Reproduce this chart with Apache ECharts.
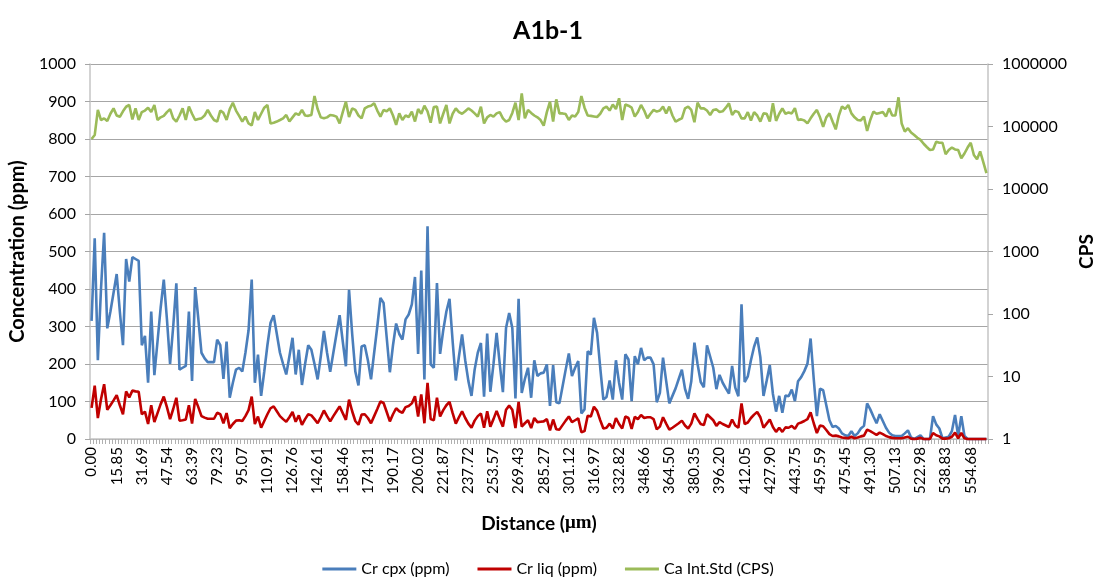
<!DOCTYPE html>
<html>
<head>
<meta charset="utf-8">
<title>A1b-1</title>
<script src="https://cdn.jsdelivr.net/npm/echarts/dist/echarts.min.js"></script>
<style>
  html, body { margin: 0; padding: 0; background: #fff; }
  #chart { width: 1096px; height: 579px; }
</style>
</head>
<body>
<div id="chart"></div>
<script>
// Distance labels shown on the x axis (one every 8 analysis spots)
const distanceTicks = ['0.00','15.85','31.69','47.54','63.39','79.23','95.07','110.91','126.76','142.61',
  '158.46','174.31','190.17','206.02','221.87','237.72','253.57','269.43','285.27','301.12',
  '316.97','332.82','348.66','364.50','380.35','396.20','412.05','427.90','443.75','459.59',
  '475.45','491.30','507.13','522.98','538.83','554.68'];
const spotsPerTick = 8;

// Cr in clinopyroxene (ppm)
const crCpx = [
  315,535,210,400,550,295,340,390,440,340,
  250,480,420,485,480,475,250,275,150,340,
  170,260,350,425,320,200,300,415,185,190,
  195,340,155,405,320,230,215,205,205,205,
  265,250,160,260,110,150,185,190,180,230,
  290,425,150,225,115,180,250,310,330,280,
  230,200,172,220,270,172,238,144,200,250,
  238,200,159,220,288,230,179,230,280,330,
  260,194,398,280,180,143,247,250,210,159,
  230,300,376,363,270,178,250,308,280,265,
  319,332,359,432,227,449,159,567,199,190,
  416,227,290,340,374,260,156,220,279,210,
  155,115,185,230,256,113,281,126,200,283,
  200,125,296,336,296,108,374,123,160,190,
  110,210,168,175,177,199,88,197,98,95,
  140,185,228,168,190,208,68,79,234,225,
  323,283,190,105,112,156,105,210,150,105,
  226,212,101,221,199,243,210,217,217,199,
  98,123,217,155,95,115,135,160,185,134,
  107,154,257,200,152,138,250,220,190,133,
  171,150,135,121,195,137,114,359,152,167,
  210,246,271,218,115,155,197,120,73,115,
  70,116,114,132,101,154,165,181,201,268,
  160,61,134,130,90,50,32,35,28,15,
  10,8,21,8,15,28,35,95,79,60,
  42,66,48,30,17,10,8,8,8,15,
  23,4,0,5,10,0,0,0,61,39,
  28,2,4,6,21,64,8,61,8,0,
  0,0,0,0,0,0
];

// Cr in the liquid (ppm)
const crLiq = [
  83,142,56,106,146,78,90,103,117,90,
  66,127,111,129,127,126,66,73,40,90,
  45,69,93,113,85,53,80,110,49,50,
  52,90,41,107,85,61,57,54,54,54,
  70,66,42,69,29,40,49,50,48,61,
  77,113,40,60,30,48,66,82,87,74,
  61,53,46,58,72,46,63,38,53,66,
  63,53,42,58,76,61,47,61,74,87,
  69,51,105,74,48,38,65,66,56,42,
  61,80,100,96,72,47,66,82,74,70,
  85,88,95,114,60,119,42,150,53,50,
  110,60,77,90,99,69,41,58,74,56,
  41,30,49,61,68,30,74,33,53,75,
  53,33,78,89,78,29,99,33,42,50,
  29,56,45,46,47,53,23,52,26,25,
  37,49,60,45,50,55,18,21,62,60,
  86,75,50,28,30,41,28,56,40,28,
  60,56,27,59,53,64,56,58,58,53,
  26,33,58,41,25,30,36,42,49,36,
  28,41,68,53,40,37,66,58,50,35,
  45,40,36,32,52,36,30,95,40,44,
  56,65,72,58,30,41,52,32,19,30,
  19,31,30,35,27,41,44,48,53,71,
  42,16,36,34,24,13,8,9,7,4,
  3,2,6,2,4,7,9,25,21,16,
  11,17,13,8,5,3,2,2,2,4,
  6,1,0,1,3,0,0,0,16,10,
  7,1,1,2,6,17,2,16,2,0,
  0,0,0,0,0,0
];

// Ca internal standard signal (counts per second)
const caCps = [
  63000,73000,184000,127000,135000,122000,160000,195000,150000,143000,
  175000,207000,221000,130000,195000,127000,170000,180000,200000,170000,
  221000,127000,140000,148000,170000,190000,135000,120000,150000,195000,
  127000,208000,160000,127000,132000,135000,150000,184000,150000,127000,
  120000,180000,165000,127000,190000,240000,180000,148000,120000,144000,
  112000,104000,170000,127000,160000,200000,221000,112000,115000,120000,
  127000,135000,153000,120000,140000,162000,153000,184000,150000,148000,
  153000,307000,190000,140000,135000,140000,153000,150000,144000,112000,
  170000,249000,142000,195000,184000,150000,135000,195000,208000,215000,
  235000,180000,144000,184000,175000,195000,150000,106000,162000,127000,
  150000,142000,173000,120000,190000,160000,215000,175000,115000,205000,
  208000,112000,160000,221000,112000,160000,195000,170000,160000,175000,
  195000,180000,162000,144000,208000,112000,140000,153000,144000,162000,
  170000,135000,120000,127000,165000,240000,127000,339000,135000,184000,
  165000,150000,140000,127000,103000,170000,249000,120000,272000,162000,
  162000,158000,127000,150000,145000,170000,307000,200000,150000,148000,
  145000,142000,160000,195000,208000,180000,225000,190000,283000,127000,
  225000,215000,200000,144000,170000,221000,180000,135000,160000,184000,
  173000,180000,208000,162000,208000,150000,120000,128000,135000,195000,
  208000,184000,117000,240000,195000,195000,180000,153000,184000,188000,
  170000,175000,200000,235000,153000,178000,170000,135000,135000,170000,
  125000,170000,150000,120000,162000,160000,120000,235000,123000,160000,
  195000,160000,168000,162000,197000,127000,130000,125000,112000,135000,
  160000,184000,140000,99000,140000,162000,120000,90000,150000,210000,
  190000,221000,162000,140000,127000,125000,144000,85000,127000,173000,
  160000,165000,170000,144000,195000,150000,150000,293000,112000,83000,
  94000,80000,73000,66000,61000,53000,47000,42000,43000,57000,
  55000,55000,36000,42000,46000,43000,42000,31000,37000,46000,
  55000,35000,30000,40000,27000,18000
];

const FONT = 'Lato, "Open Sans", sans-serif';
const spotIndex = crCpx.map((_, i) => String(i));

const chart = echarts.init(document.getElementById('chart'), null, { renderer: 'canvas' });

chart.setOption({
  animation: false,
  backgroundColor: '#fff',
  textStyle: { fontFamily: FONT },
  title: {
    text: 'A1b-1',
    left: 'center',
    top: 13,
    textStyle: { fontFamily: FONT, fontWeight: 'bold', fontSize: 25, color: '#000' }
  },
  grid: { left: 90, right: 108, top: 64, bottom: 140, containLabel: false, outerBoundsMode: 'none' },
  legend: {
    bottom: -3,
    left: 'center',
    icon: 'rect',
    itemWidth: 34,
    itemHeight: 3,
    itemGap: 28,
    textStyle: { fontFamily: FONT, fontSize: 16, color: '#000' },
    data: ['Cr cpx (ppm)', 'Cr liq (ppm)', 'Ca Int.Std (CPS)']
  },
  xAxis: {
    type: 'category',
    data: spotIndex,
    boundaryGap: true,
    axisLine: { lineStyle: { color: '#c4c4c4', width: 1.5 } },
    axisTick: { show: true, interval: 0, length: 5, lineStyle: { color: '#b0b0b0' } },
    axisLabel: {
      interval: spotsPerTick - 1,
      rotate: 90,
      margin: 8,
      fontSize: 15,
      color: '#000',
      fontFamily: FONT,
      formatter: (v, i) => distanceTicks[i / spotsPerTick]
    },
    splitLine: { show: false },
    name: 'Distance ({mu|μm})',
    nameLocation: 'middle',
    nameGap: 75,
    nameTextStyle: {
      fontFamily: FONT, fontWeight: 'bold', fontSize: 19, color: '#000',
      rich: { mu: { fontFamily: '"Liberation Serif", "DejaVu Serif", serif', fontWeight: 'bold', fontSize: 19, color: '#000' } }
    }
  },
  yAxis: [
    {
      type: 'value',
      position: 'left',
      min: 0,
      max: 1000,
      interval: 100,
      axisLine: { show: true, lineStyle: { color: '#c4c4c4', width: 1.5 } },
      axisTick: { show: true, length: 5, lineStyle: { color: '#a6a6a6' } },
      axisLabel: { margin: 14, fontSize: 16, color: '#000', fontFamily: FONT, formatter: v => String(v) },
      splitLine: { show: true, lineStyle: { color: '#a6a6a6', width: 1 } },
      name: 'Concentration (ppm)',
      nameLocation: 'middle',
      nameRotate: 90,
      nameGap: 62,
      nameTextStyle: { fontFamily: FONT, fontWeight: 'bold', fontSize: 20, color: '#000' }
    },
    {
      type: 'log',
      logBase: 10,
      position: 'right',
      min: 1,
      max: 1000000,
      axisLine: { show: true, lineStyle: { color: '#c4c4c4', width: 1.5 } },
      axisTick: { show: true, length: 5, lineStyle: { color: '#a6a6a6' } },
      axisLabel: { margin: 14, fontSize: 16, color: '#000', fontFamily: FONT, formatter: v => String(Math.round(v)) },
      splitLine: { show: false },
      name: 'CPS',
      nameLocation: 'middle',
      nameRotate: 90,
      nameGap: 87,
      nameTextStyle: { fontFamily: FONT, fontWeight: 'bold', fontSize: 19, color: '#000' }
    }
  ],
  series: [
    {
      name: 'Cr cpx (ppm)', type: 'line', yAxisIndex: 0, data: crCpx,
      symbol: 'none', showSymbol: false, clip: false,
      lineStyle: { color: '#4A7EBB', width: 2.6 }, itemStyle: { color: '#4A7EBB' }
    },
    {
      name: 'Cr liq (ppm)', type: 'line', yAxisIndex: 0, data: crLiq,
      symbol: 'none', showSymbol: false, clip: false,
      lineStyle: { color: '#C00000', width: 2.6 }, itemStyle: { color: '#C00000' }
    },
    {
      name: 'Ca Int.Std (CPS)', type: 'line', yAxisIndex: 1, data: caCps,
      symbol: 'none', showSymbol: false, clip: false,
      lineStyle: { color: '#9BBB59', width: 2.6 }, itemStyle: { color: '#9BBB59' }
    }
  ]
});
</script>
</body>
</html>
